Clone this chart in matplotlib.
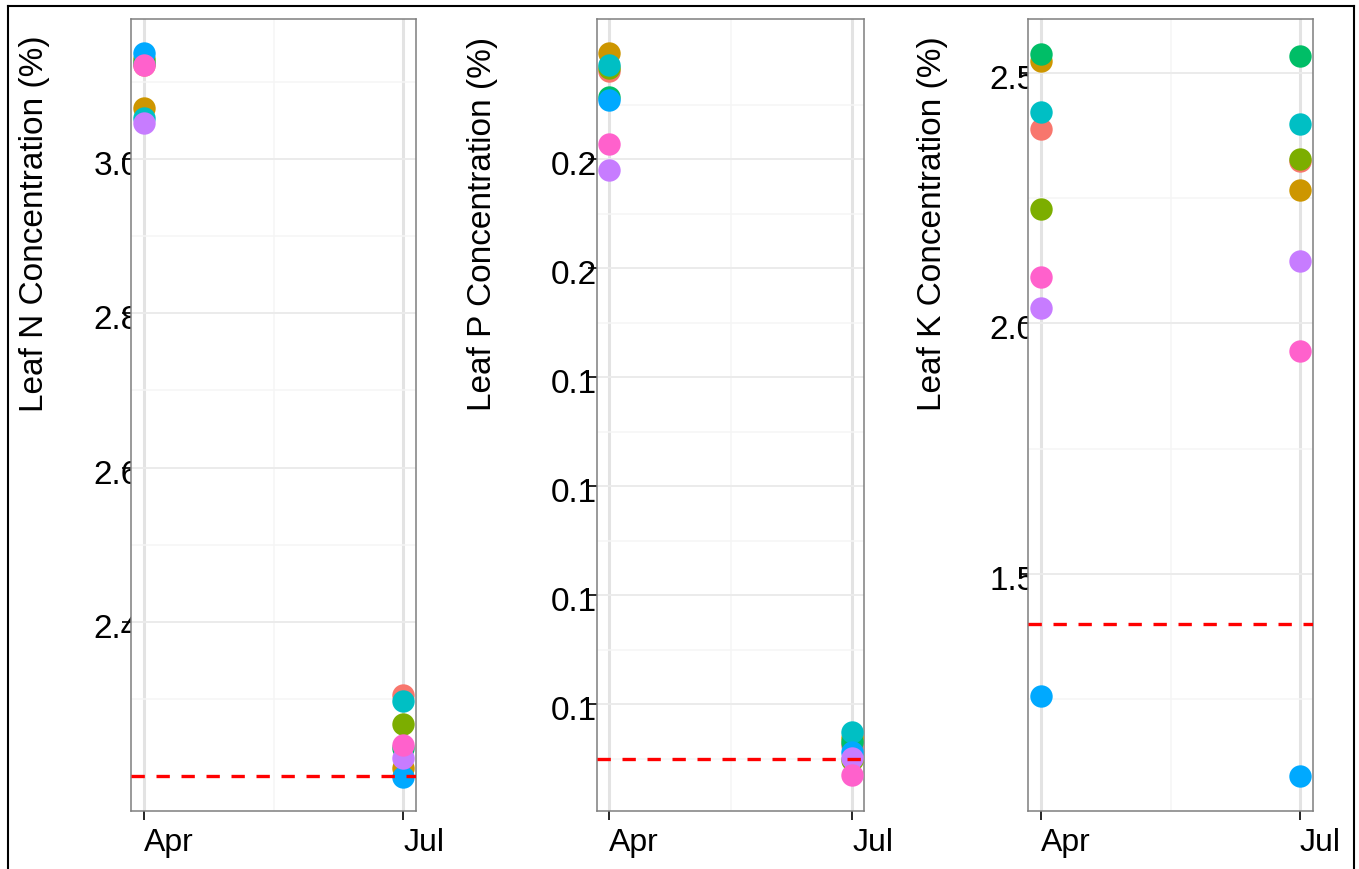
import matplotlib
matplotlib.use("Agg")
import matplotlib.pyplot as plt
import matplotlib.transforms as mtransforms
from matplotlib.lines import Line2D

plt.rcParams['font.family'] = ['Liberation Sans', 'DejaVu Sans']

# groups in ggplot hue order
colors = ["#F8766D", "#CD9600", "#7CAE00", "#00BE67",
          "#00BFC4", "#00A9FF", "#C77CFF", "#FF61CC"]
months = ["Apr", "Jul"]
month_pos = [0, 1]

# leaf N (%)
n_apr = [3.1225, 3.067, 3.130, 3.125, 3.054, 3.138, 3.047, 3.123]
n_jul = [2.305, 2.210, 2.267, 2.236, 2.2975, 2.198, 2.223, 2.2396]
n_crit = 2.2
n_ticks = [3.0, 2.8, 2.6, 2.4]
n_minor = [3.1, 2.9, 2.7, 2.5, 2.3]

# leaf P (%)
p_apr = [0.2362, 0.2394, 0.2367, 0.2314, 0.2372, 0.2309, 0.2180, 0.2228]
p_jul = [0.1125, 0.1138, 0.1098, 0.1131, 0.1150, 0.1113, 0.1101, 0.1070]
p_crit = 0.11
p_ticks = [0.22, 0.20, 0.18, 0.16, 0.14, 0.12]
p_minor = [0.23, 0.21, 0.19, 0.17, 0.15, 0.13, 0.11]

# leaf K (%)
k_apr = [2.3883, 2.5239, 2.2287, 2.5373, 2.4222, 1.2570, 2.0311, 2.0914]
k_jul = [2.3228, 2.2666, 2.3278, 2.5339, 2.3976, 1.0972, 2.1247, 1.9453]
k_crit = 1.4
k_ticks = [2.5, 2.0, 1.5]
k_minor = [2.25, 1.75, 1.25]

W, H = 1359, 869
fig = plt.figure(figsize=(W / 100, H / 100), dpi=100)

panels = [
    # name, apr, jul, crit, ticks, minor, tick px (apr, jul), ylim, label x px, ylabel x px
    ("N", n_apr, n_jul, n_crit, n_ticks, n_minor, (144.3, 403.3), (2.1543, 3.1821), 93.5, 35),
    ("P", p_apr, p_jul, p_crit, p_ticks, p_minor, (609.0, 852.3), (0.10043, 0.2457), 550.5, 482),
    ("K", k_apr, k_jul, k_crit, k_ticks, k_minor, (1041.0, 1300.0), (1.0271, 2.607), 989.5, 932),
]

top_px, bot_px = 19, 811
for name, apr, jul, crit, ticks, minor, (xa, xj), ylim, lab_x, tit_x in panels:
    unit = xj - xa
    left = xa - 0.05 * unit
    right = xj + 0.05 * unit
    ax = fig.add_axes([left / W, 1 - bot_px / H, (right - left) / W, (bot_px - top_px) / H])
    ax.set_xlim(-0.05, 1.05)
    ax.set_ylim(*ylim)

    ax.set_xticks(month_pos)
    ax.set_xticklabels(months, ha='left', fontsize=23)
    ax.set_xticks([0.5], minor=True)
    ax.set_yticks(ticks)
    ax.set_yticklabels([])
    ax.set_yticks(minor, minor=True)
    ax.tick_params(which='major', length=6.5, width=1.2, color='black', pad=6)
    ax.tick_params(which='minor', length=0)
    ax.grid(which='major', axis='x', color='#E3E3E3', lw=2.2, zorder=0)
    ax.grid(which='major', axis='y', color='#EBEBEB', lw=1.4, zorder=0)
    ax.grid(which='minor', color='#F5F5F5', lw=1.1, zorder=0)
    ax.set_axisbelow(True)
    for sp in ax.spines.values():
        sp.set_color('#7F7F7F')
        sp.set_linewidth(1.1)

    for i, c in enumerate(colors):
        ax.scatter(month_pos, [apr[i], jul[i]], s=260, color=c, lw=0, zorder=3)
    ax.axhline(crit, color='#FF0000', lw=2.4, ls=(0, (4.0, 3.5)), zorder=4)

    # y tick labels sit partly under the panel, as in the original
    trans = mtransforms.blended_transform_factory(fig.transFigure, ax.transData)
    trans = mtransforms.offset_copy(trans, fig=fig, y=-16, units='dots')
    for t in ticks:
        txt = f"{t:.1f}" if name != "P" else f"{t:.2f}"
        fig.text(lab_x / W, t, txt, transform=trans, fontsize=24,
                 ha='left', va='baseline', zorder=-1)

    fig.text(tit_x / W, 1 - 224 / H, f"Leaf {name} Concentration (%)",
             rotation=90, ha='center', va='center', fontsize=24)

# outer frame (bottom edge falls outside the picture)
kw = dict(color='black', lw=1.5, transform=fig.transFigure, zorder=10)
fig.add_artist(Line2D([8 / W, 8 / W], [0, 1 - 5.7 / H], **kw))
fig.add_artist(Line2D([8 / W, 1354 / W], [1 - 5.7 / H, 1 - 5.7 / H], **kw))
fig.add_artist(Line2D([1354 / W, 1354 / W], [0, 1 - 5.7 / H], **kw))

fig.savefig("out.png", dpi=100)
